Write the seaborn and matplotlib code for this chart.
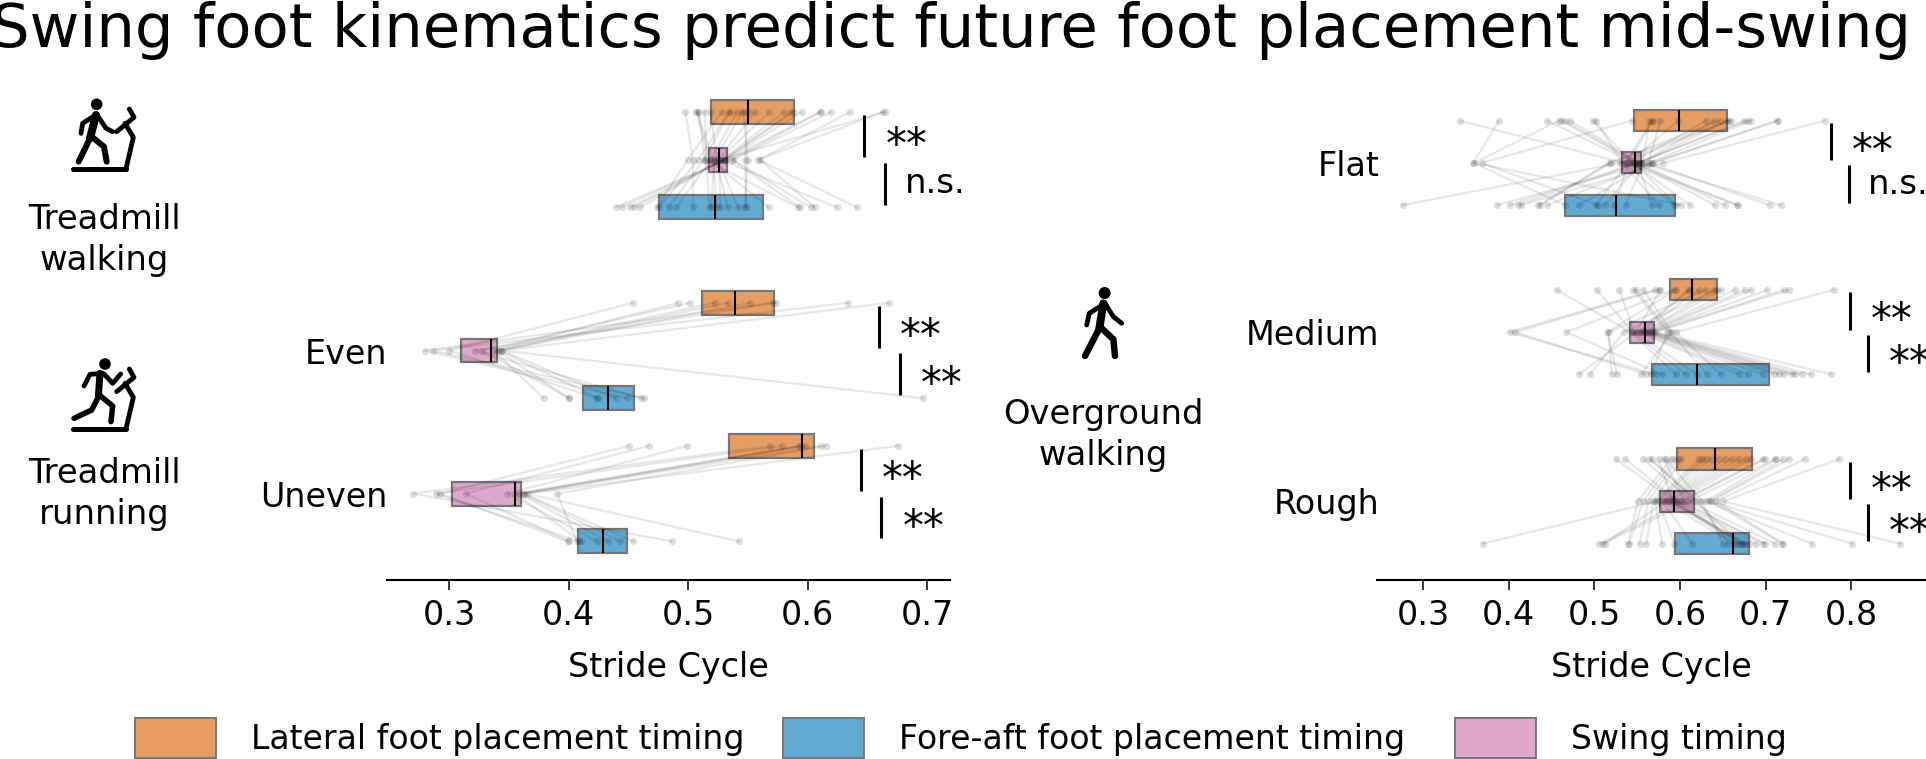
import numpy as np
import pandas as pd
import seaborn as sns
import matplotlib
matplotlib.use("Agg")
import matplotlib.pyplot as plt
from matplotlib.patches import Patch, Circle

sns.set_theme(style="white")
plt.rcParams['font.family'] = ['DejaVu Sans']
plt.rcParams.update({'text.color': 'black', 'axes.labelcolor': 'black',
                     'xtick.color': 'black', 'ytick.color': 'black'})

TITLE = "Swing foot kinematics predict future foot placement mid-swing"
TIMINGS = ["Lateral foot placement timing", "Swing timing", "Fore-aft foot placement timing"]
COLORS = {"Lateral foot placement timing": "#E69D64",
          "Fore-aft foot placement timing": "#62AAD2",
          "Swing timing": "#E0A8CB"}
LEGEND_ORDER = ["Lateral foot placement timing", "Fore-aft foot placement timing", "Swing timing"]

# Each row: lateral, swing, fore-aft timing of one participant
walk_tm = [
 (.4976,.5040,.5043),(.5068,.5179,.5673),(.5076,.5207,.5241),(.5087,.5140,.5919),(.5140,.5150,.5179),
 (.5191,.5235,.5330),(.5280,.4995,.4739),(.5341,.5085,.4753),(.5347,.5129,.4839),(.5408,.5190,.4901),
 (.5453,.5220,.5193),(.5464,.5497,.5475),(.5497,.5475,.5486),(.5562,.5250,.5417),(.5679,.5258,.5269),
 (.5801,.5286,.4599),(.5863,.5297,.4549),(.5882,.5300,.4510),(.5949,.5308,.4443),(.6100,.5320,.4393),
 (.6108,.5364,.5933),(.6195,.5375,.6025),(.6354,.5598,.6058),(.6630,.5587,.6412),(.6644,.5270,.6245)]
even = [
 (.4539,.2999,.4238),(.4915,.3367,.3791),(.5014,.3275,.4006),(.5222,.3402,.3999),(.5331,.3419,.4245),
 (.5519,.3436,.4392),(.5707,.2794,.4484),(.5734,.3214,.4604),(.6339,.2862,.4631),(.6680,.3446,.6964)]
uneven = [
 (.4501,.2924,.3992),(.4669,.3139,.4006),(.4993,.3487,.4238),(.5683,.2698,.4863),(.5782,.2886,.4085),
 (.5929,.3555,.4102),(.5946,.3589,.4327),(.5980,.3617,.4433),(.6110,.3624,.4539),(.6151,.3904,.4068),
 (.6759,.3648,.5427)]
flat = [
 (.3427,.5343,.5933),(.3886,.3585,.4659),(.4448,.5465,.5953),(.4586,.3593,.6014),(.4611,.5485,.6409),
 (.4651,.5506,.5668),(.4716,.5526,.6523),(.4977,.5445,.6116),(.5017,.5323,.5750),(.5436,.3683,.5038),
 (.5640,.5567,.5363),(.5668,.5363,.6665),(.5689,.5384,.5017),(.5770,.5628,.7047),(.5978,.5404,.5229),
 (.6307,.5432,.6677),(.6401,.5538,.5119),(.6462,.5172,.4366),(.6543,.5546,.7178),(.6576,.5188,.4346),
 (.6592,.5302,.2759),(.6751,.5514,.4102),(.6787,.5497,.4008),(.6828,.5648,.4822),(.7137,.5668,.3858),
 (.7141,.5689,.4448),(.7690,.5798,.4143)]
medium = [
 (.4558,.5424,.5953),(.5030,.5445,.6067),(.5290,.5465,.6197),(.5453,.5851,.5660),(.5485,.5880,.6319),
 (.5571,.5904,.5546),(.5709,.4009,.5709),(.5750,.4074,.5607),(.5770,.5485,.4818),(.5933,.4672,.5790),
 (.5953,.5148,.5266),(.6096,.5506,.6685),(.6116,.5526,.6787),(.6217,.5546,.6970),(.6299,.5168,.5200),
 (.6401,.5567,.7092),(.6433,.5343,.4948),(.6482,.5587,.7153),(.6637,.5607,.7214),(.6755,.5628,.7304),
 (.6828,.5648,.7336),(.7019,.5668,.7418),(.7214,.5689,.7528),(.7275,.5709,.7767),(.7796,.5953,.6474)]
rough = [
 (.5249,.5933,.6645),(.5359,.5973,.6685),(.5567,.6136,.5099),(.5640,.6217,.6563),(.5668,.6177,.6706),
 (.5750,.5912,.6726),(.5811,.6055,.5058),(.5831,.6258,.6502),(.5892,.5506,.5392),(.5933,.5567,.5408),
 (.5973,.5628,.5526),(.6014,.5689,.5607),(.6217,.5709,.5790),(.6258,.5729,.3695),(.6299,.5750,.5933),
 (.6360,.5790,.6144),(.6441,.5811,.6624),(.6523,.5831,.5119),(.6604,.5851,.6746),(.6685,.5872,.6767),
 (.6767,.5892,.6807),(.6828,.5953,.6889),(.6970,.5994,.6970),(.6991,.6026,.6991),(.7113,.6096,.7113),
 (.7121,.6299,.7540),(.7206,.6340,.8008),(.7275,.6360,.7194),(.7458,.6421,.7206),(.7857,.6502,.8569)]

# Box summaries: (q1, median, q3) per timing
box_walk_tm = [(.5194,.5498,.5883),(.5177,.5258,.5325),(.4756,.5222,.5629)]
box_even    = [(.5116,.5389,.5721),(.3101,.3354,.3398),(.4122,.4327,.4546)]
box_uneven  = [(.5338,.5953,.6052),(.3026,.3549,.3603),(.4078,.4286,.4491)]
box_flat    = [(.5461,.5990,.6547),(.5327,.5473,.5542),(.4659,.5249,.5945)]
box_medium  = [(.5880,.6144,.6429),(.5420,.5587,.5697),(.5668,.6201,.7039)]
box_rough   = [(.5969,.6405,.6844),(.5762,.5933,.6157),(.5941,.6620,.6799)]

left_groups  = [("", walk_tm, box_walk_tm), ("Even", even, box_even), ("Uneven", uneven, box_uneven)]
right_groups = [("Flat", flat, box_flat), ("Medium", medium, box_medium), ("Rough", rough, box_rough)]

# significance: (bar x lateral-swing, label, bar x swing-fore, label)
left_sig  = [(.6474,"**",.6650,"n.s."),(.6592,"**",.6770,"**"),(.6442,"**",.6616,"**")]
right_sig = [(.7764,"**",.7974,"n.s."),(.7982,"**",.8190,"**"),(.7982,"**",.8190,"**")]

W, H = 1926, 759
FS = 24
fig = plt.figure(figsize=(W/100, H/100), dpi=100)
def make_ax(x0, x1, y0, y1):
    return fig.add_axes([x0/W, 1-y1/H, (x1-x0)/W, (y1-y0)/H])

def panel(ax, groups, offsets, sig, xlim, ylim, ticks, dx_px, ypad):
    rows, boxes = [], []
    sid = 0
    for (name, subj, box), off in zip(groups, offsets):
        for s in subj:
            sid += 1
            for k, t in enumerate(TIMINGS):
                rows.append(dict(id=sid, value=s[k], pos=off+k, timing=t))
        for k, t in enumerate(TIMINGS):
            q1, m, q3 = box[k]
            for v in (q1, q1, m, q3, q3):
                boxes.append(dict(value=v, pos=off+k, timing=t))
    d = pd.DataFrame(rows); b = pd.DataFrame(boxes)
    sns.boxplot(data=b, x="value", y="pos", hue="timing", palette=COLORS, orient="h",
                native_scale=True, dodge=False, width=0.5, whis=0, showcaps=False,
                showfliers=False, saturation=1, linecolor="#777777", linewidth=1.6,
                medianprops=dict(color="black", linewidth=1.5),
                whiskerprops=dict(visible=False), legend=False, ax=ax, zorder=2)
    sns.lineplot(data=d, x="value", y="pos", units="id", estimator=None, sort=False,
                 color="black", alpha=0.09, linewidth=1.6, legend=False, ax=ax, zorder=3)
    sns.scatterplot(data=d, x="value", y="pos", color="black", alpha=0.13, s=27,
                    linewidth=0, legend=False, ax=ax, zorder=4)
    ax.set_xlim(*xlim); ax.set_ylim(*ylim)
    ax.set_xticks(ticks); ax.set_xticklabels([f"{t:.1f}" for t in ticks])
    ax.set_xlabel("Stride Cycle", fontsize=FS, labelpad=13)
    ax.set_ylabel("")
    lab = [(off+1, g[0]) for g, off in zip(groups, offsets) if g[0]]
    ax.set_yticks([l[0] for l in lab]); ax.set_yticklabels([l[1] for l in lab], fontsize=FS)
    ax.tick_params(axis="y", length=0, pad=ypad)
    ax.tick_params(axis="x", length=7, width=1.1, labelsize=FS, pad=7, bottom=True)
    sns.despine(ax=ax, left=True)
    ax.spines["bottom"].set_linewidth(1.5); ax.spines["bottom"].set_color("black")
    ax.patch.set_alpha(0)
    for off, (x1, l1, x2, l2) in zip(offsets, sig):
        for x, l, y in ((x1, l1, off), (x2, l2, off+1)):
            ax.plot([x, x], [y+.06, y+.94], color="black", lw=2.2, clip_on=False, zorder=5,
                    solid_capstyle="butt")
            if l == "**":
                ax.annotate(l, (x, y+.5), xytext=(dx_px*.72, -7.5), textcoords="offset points",
                            fontsize=30, va="center", ha="left", annotation_clip=False)
            else:
                ax.annotate(l, (x, y+.5), xytext=((dx_px-2)*.72, 0), textcoords="offset points",
                            fontsize=24.5, va="center", ha="left", annotation_clip=False)

axL = make_ax(387, 950, 80, 580)
panel(axL, left_groups, [0, 4, 7], left_sig, (.248, .719), (9.81, -.67),
      [.3, .4, .5, .6, .7], 21, 0)
axR = make_ax(1376.6, 1926, 80, 580)
panel(axR, right_groups, [0, 4, 8], right_sig, (.2456, .8871), (10.86, -.96),
      [.3, .4, .5, .6, .7, .8], 21, -2)

fig.text(951/W, 1-47/H, TITLE, fontsize=43.8, ha="center", va="baseline")

# overlay in pixel space for the pictograms and captions
ov = fig.add_axes([0, 0, 1, 1]); ov.set_xlim(0, W); ov.set_ylim(H, 0); ov.axis("off")
def stroke(pts, origin, lw=4.8):
    xs = [origin[0]+p[0]/3 for p in pts]; ys = [origin[1]+p[1]/3 for p in pts]
    ov.plot(xs, ys, color="black", lw=lw*.72, solid_capstyle="round", solid_joinstyle="round")
def head(p, origin, r):
    ov.add_patch(Circle((origin[0]+p[0]/3, origin[1]+p[1]/3), r, color="black", lw=0))
def treadmill(o):
    stroke([(218,266),(378,266)], o, 5)
    stroke([(378,266),(400,172),(375,130)], o)
    stroke([(350,155),(402,112),(388,87)], o)

o = (0, 80)
treadmill(o); head((290,73), o, 5.8)
stroke([(290,103),(248,130),(243,160)], o); stroke([(290,103),(318,145),(338,155)], o)
stroke([(288,105),(270,175)], o, 8); stroke([(270,175),(236,245)], o, 6)
stroke([(275,170),(312,200),(320,245)], o, 6)

o = (0, 340)
treadmill(o); head((315,72), o, 5.8)
stroke([(252,138),(270,103),(310,100),(338,130),(362,102)], o)
stroke([(300,100),(295,170)], o, 7); stroke([(298,165),(275,210),(222,235)], o, 5.5)
stroke([(298,165),(338,198),(333,245)], o, 5.5)

o = (1000, 270)
head((314,69), o, 6)
stroke([(315,100),(268,130),(260,165)], o); stroke([(315,100),(340,140),(365,160)], o)
stroke([(310,100),(298,175)], o, 8); stroke([(298,175),(255,258)], o, 6.5)
stroke([(300,170),(340,208),(345,258)], o, 6.5)

cap = dict(fontsize=24.3, ha="center", va="center", linespacing=1.33)
ov.text(104, 240, "Treadmill\nwalking", **cap)
ov.text(104, 494, "Treadmill\nrunning", **cap)
ov.text(1103, 435, "Overground\nwalking", **cap)

for t, x_px in zip(LEGEND_ORDER, (135, 783, 1455)):
    h = Patch(facecolor=COLORS[t], edgecolor="#777777", linewidth=1.4, label=t)
    fig.legend(handles=[h], loc="center left", bbox_to_anchor=(x_px/W, 1-738/H), frameon=False,
               fontsize=23.9, handlelength=2.43, handleheight=1.52, handletextpad=1.07,
               borderpad=0, borderaxespad=0)

fig.savefig("out.png", dpi=100)
